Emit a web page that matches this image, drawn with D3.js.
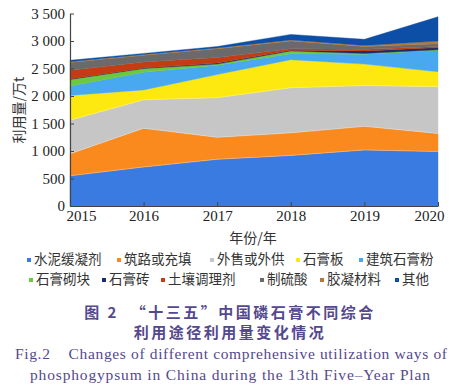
<!DOCTYPE html>
<html>
<head>
<meta charset="utf-8">
<script src="https://cdn.jsdelivr.net/npm/d3@7"></script>
<style>
  body { margin: 0; background: #fff; }
  svg { display: block; }
</style>
</head>
<body>
<div id="chart"></div>
<script>
// data (万t)
var years = [2015, 2016, 2017, 2018, 2019, 2020];
var seriesNames = ["水泥缓凝剂", "筑路或充填", "外售或外供", "石膏板", "建筑石膏粉",
                   "石膏砌块", "石膏砖", "土壤调理剂", "制硫酸", "胶凝材料", "其他"];
var cementRetarder = [550, 710, 850, 920, 1020, 990];
var roadFill       = [400, 705, 400, 410, 430, 330];
var soldOut        = [610, 515, 720, 820, 740, 850];
var gypsumBoard    = [450, 180, 420, 510, 390, 270];
var buildingPlaster= [170, 320, 170, 110, 180, 390];
var gypsumBlock    = [120, 70, 20, 50, 15, 10];
var gypsumBrick    = [10, 10, 20, 10, 45, 40];
var soilConditioner= [160, 110, 100, 30, 30, 20];
var sulfuricAcid   = [140, 120, 160, 140, 50, 50];
var binder         = [15, 15, 15, 20, 20, 50];
var others         = [25, 20, 25, 100, 110, 440];
var yTicks = [0, 500, 1000, 1500, 2000, 2500, 3000, 3500];

var colors = ["#3a7be2", "#fb8a1e", "#c6c6c6", "#fde910", "#48a8f0",
              "#6cc83c", "#1b2c6c", "#c63c12", "#6a6a6a", "#b07a3c", "#0d4ea6"];

var allSeries = [cementRetarder, roadFill, soldOut, gypsumBoard, buildingPlaster,
                 gypsumBlock, gypsumBrick, soilConditioner, sulfuricAcid, binder, others];

// table for d3.stack
var table = years.map(function(yr, i) {
  var row = { year: yr };
  seriesNames.forEach(function(n, k) { row[n] = allSeries[k][i]; });
  return row;
});

var width = 461, height = 387;
var plot = { left: 70, right: 438, top: 13.5, bottom: 206 };

var svg = d3.select("#chart").append("svg")
    .attr("width", width)
    .attr("height", height);

var x = d3.scaleLinear().domain([2015, 2020]).range([plot.left, plot.right]);
var y = d3.scaleLinear().domain([0, 3500]).range([plot.bottom, plot.top]);

var stack = d3.stack().keys(seriesNames);
var layers = stack(table);

var area = d3.area()
    .x(function(d) { return x(d.data.year); })
    .y0(function(d) { return y(d[0]); })
    .y1(function(d) { return y(d[1]); });

svg.append("g")
  .selectAll("path")
  .data(layers)
  .enter().append("path")
    .attr("d", area)
    .style("fill", function(d, i) { return colors[i]; })
    .style("stroke", function(d, i) { return colors[i]; })
    .style("stroke-width", 0.4);

// thin light seams between layers
svg.append("g")
  .selectAll("path")
  .data(layers.slice(0, 3))
  .enter().append("path")
    .attr("d", d3.line()
      .x(function(d) { return x(d.data.year); })
      .y(function(d) { return y(d[1]); }))
    .style("fill", "none")
    .style("stroke", "#fff")
    .style("stroke-opacity", 0.35)
    .style("stroke-width", 0.8);

// axes
var fmt = function(d) { return d3.format(",")(d).replace(",", " "); };

var yAxis = svg.append("g")
    .attr("transform", "translate(" + plot.left + ",0)")
    .call(d3.axisLeft(y).tickValues(yTicks).tickFormat(fmt).tickSize(-4).tickSizeOuter(0).tickPadding(5));

var xAxis = svg.append("g")
    .attr("transform", "translate(0," + plot.bottom + ")")
    .call(d3.axisBottom(x).tickValues(years).tickFormat(d3.format("d")).tickSize(-4).tickSizeOuter(0).tickPadding(4));

[yAxis, xAxis].forEach(function(a) {
  a.select(".domain").style("stroke", "#444").style("stroke-width", 1.2);
  a.selectAll(".tick line").style("stroke", "#444");
  a.selectAll("text")
    .style("font-family", "'Liberation Serif', serif")
    .style("font-size", "15px")
    .style("fill", "#222");
});

// end labels sit inside the chart edges
xAxis.selectAll(".tick text")
    .attr("dx", function(d) { return d === 2015 ? 11 : (d === 2020 ? -9 : 0); });

svg.append("text")
    .attr("transform", "translate(19,110) rotate(-90)")
    .attr("text-anchor", "middle")
    .attr("dy", "0.35em")
    .style("font-family", "'Noto Sans CJK SC', sans-serif")
    .style("font-size", "14px")
    .style("fill", "#333")
    .text("利用量/万t");

svg.append("text")
    .attr("x", 253)
    .attr("y", 238)
    .attr("text-anchor", "middle")
    .attr("dy", "0.35em")
    .style("font-family", "'Noto Sans CJK SC', sans-serif")
    .style("font-size", "14px")
    .style("fill", "#333")
    .text("年份/年");

// legend
var legendPos = [
  [29, 259], [119, 259], [212, 259], [298, 259], [361, 259],
  [31, 279], [104, 279], [163, 279], [262, 279], [322, 279], [397, 279]
];

var legend = svg.append("g")
  .selectAll("g")
  .data(seriesNames)
  .enter().append("g")
    .attr("transform", function(d, i) { return "translate(" + legendPos[i][0] + "," + legendPos[i][1] + ")"; });

legend.append("rect")
    .attr("x", -2).attr("y", -1)
    .attr("width", 4).attr("height", 4)
    .style("fill", function(d, i) { return colors[i]; });

legend.append("text")
    .attr("x", 5)
    .attr("dy", "0.35em")
    .style("font-family", "'Noto Sans CJK SC', sans-serif")
    .style("font-size", "13.5px")
    .style("fill", "#333")
    .text(function(d) { return d; });

// caption
var capColor = "#54488e";
svg.append("text")
    .attr("x", 230).attr("y", 313).attr("dy", "0.35em")
    .attr("text-anchor", "middle")
    .style("font-family", "'Noto Sans CJK SC', sans-serif")
    .style("font-weight", "bold")
    .style("font-size", "15px")
    .style("letter-spacing", "2.5px")
    .style("white-space", "pre")
    .style("fill", capColor)
    .text("图 2  “十三五”中国磷石膏不同综合");

svg.append("text")
    .attr("x", 230).attr("y", 333).attr("dy", "0.35em")
    .attr("text-anchor", "middle")
    .style("font-family", "'Noto Sans CJK SC', sans-serif")
    .style("font-weight", "bold")
    .style("font-size", "15px")
    .style("letter-spacing", "2.5px")
    .style("fill", capColor)
    .text("利用途径利用量变化情况");

svg.append("text")
    .attr("x", 231).attr("y", 354).attr("dy", "0.35em")
    .attr("text-anchor", "middle")
    .attr("textLength", 432)
    .style("font-family", "'Liberation Serif', serif")
    .style("font-size", "15.5px")
    .style("white-space", "pre")
    .style("fill", capColor)
    .text("Fig.2    Changes of different comprehensive utilization ways of");

svg.append("text")
    .attr("x", 230).attr("y", 375).attr("dy", "0.35em")
    .attr("text-anchor", "middle")
    .attr("textLength", 400)
    .style("font-family", "'Liberation Serif', serif")
    .style("font-size", "15.5px")
    .style("fill", capColor)
    .text("phosphogypsum in China during the 13th Five–Year Plan");
</script>
</body>
</html>
